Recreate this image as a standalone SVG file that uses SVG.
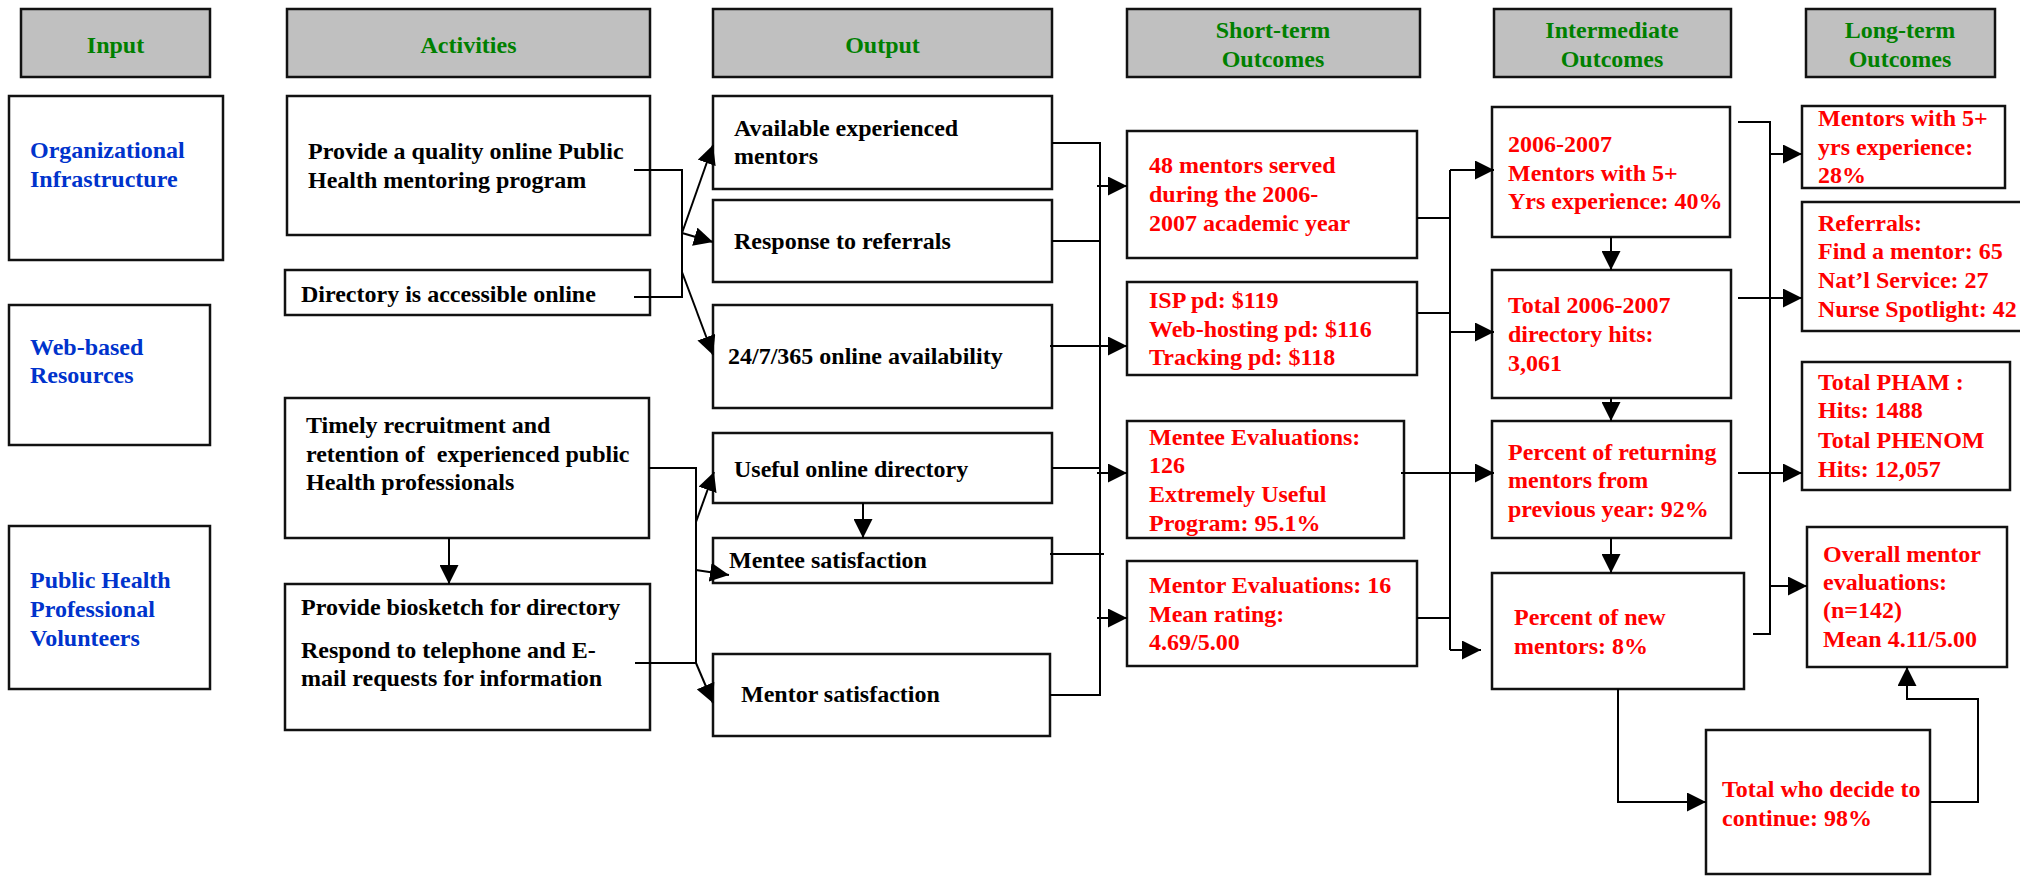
<svg xmlns="http://www.w3.org/2000/svg" width="2020" height="876" viewBox="0 0 2020 876" font-family="'Liberation Serif', 'DejaVu Serif', serif" font-weight="bold" font-size="24">
<style>
.hdr{fill:#c0c0c0;stroke:#111;stroke-width:2.5}
.box{fill:#fff;stroke:#111;stroke-width:2.5}
.h{fill:#008000;text-anchor:middle}
.in{fill:#0033cc}
.bk{fill:#000}
.rd{fill:#ff0000}
.c{fill:none;stroke:#000;stroke-width:2}
</style>
<defs>
<marker id="ah" markerUnits="userSpaceOnUse" markerWidth="19" markerHeight="19" refX="19" refY="9.5" orient="auto" viewBox="0 0 19 19">
<path d="M0,0 L19,9.5 L0,19 z" fill="#000"/>
</marker>
</defs>
<rect width="2020" height="876" fill="#fff"/>

<g id="hdr-input"><rect class="hdr" x="21" y="9" width="189" height="68"/><text class="h" x="115.5" y="53">Input</text></g>
<g id="hdr-activities"><rect class="hdr" x="287" y="9" width="363" height="68"/><text class="h" x="468.5" y="53">Activities</text></g>
<g id="hdr-output"><rect class="hdr" x="713" y="9" width="339" height="68"/><text class="h" x="882.5" y="53">Output</text></g>
<g id="hdr-short"><rect class="hdr" x="1127" y="9" width="293" height="68"/><text class="h" x="1273" y="38">Short-term</text><text class="h" x="1273" y="67">Outcomes</text></g>
<g id="hdr-inter"><rect class="hdr" x="1494" y="9" width="237" height="68"/><text class="h" x="1612" y="38">Intermediate</text><text class="h" x="1612" y="67">Outcomes</text></g>
<g id="hdr-long"><rect class="hdr" x="1806" y="9" width="189" height="68"/><text class="h" x="1900" y="38">Long-term</text><text class="h" x="1900" y="67">Outcomes</text></g>

<g id="in-org"><rect class="box" x="9" y="96" width="214" height="164"/><text class="in" x="30" y="158">Organizational</text><text class="in" x="30" y="187">Infrastructure</text></g>
<g id="in-web"><rect class="box" x="9" y="305" width="201" height="140"/><text class="in" x="30" y="355">Web-based</text><text class="in" x="30" y="383">Resources</text></g>
<g id="in-phpv"><rect class="box" x="9" y="526" width="201" height="163"/><text class="in" x="30" y="588">Public Health</text><text class="in" x="30" y="617">Professional</text><text class="in" x="30" y="646">Volunteers</text></g>

<g id="act-quality"><rect class="box" x="287" y="96" width="363" height="139"/><text class="bk" x="308" y="159">Provide a quality online Public</text><text class="bk" x="308" y="188">Health mentoring program</text></g>
<g id="act-directory"><rect class="box" x="285" y="270" width="365" height="45"/><text class="bk" x="301" y="302">Directory is accessible online</text></g>
<g id="act-timely"><rect class="box" x="285" y="398" width="364" height="140"/><text class="bk" x="306" y="433">Timely recruitment and</text><text class="bk" x="306" y="462">retention of&#160; experienced public</text><text class="bk" x="306" y="490">Health professionals</text></g>
<g id="act-biosketch"><rect class="box" x="285" y="584" width="365" height="146"/><text class="bk" x="301" y="615">Provide biosketch for directory</text><text class="bk" x="301" y="658">Respond to telephone and E-</text><text class="bk" x="301" y="686">mail requests for information</text></g>

<g id="out-mentors"><rect class="box" x="713" y="96" width="339" height="93"/><text class="bk" x="734" y="136">Available experienced</text><text class="bk" x="734" y="164">mentors</text></g>
<g id="out-referrals"><rect class="box" x="713" y="200" width="339" height="82"/><text class="bk" x="734" y="249">Response to referrals</text></g>
<g id="out-247"><rect class="box" x="713" y="305" width="339" height="103"/><text class="bk" x="728" y="364">24/7/365 online availability</text></g>
<g id="out-directory"><rect class="box" x="713" y="433" width="339" height="70"/><text class="bk" x="734" y="477">Useful online directory</text></g>
<g id="out-mentee"><rect class="box" x="713" y="538" width="339" height="45"/><text class="bk" x="729" y="568">Mentee satisfaction</text></g>
<g id="out-mentor"><rect class="box" x="713" y="654" width="337" height="82"/><text class="bk" x="741" y="702">Mentor satisfaction</text></g>

<g id="st-served"><rect class="box" x="1127" y="131" width="290" height="127"/><text class="rd" x="1149" y="173">48 mentors served</text><text class="rd" x="1149" y="202">during the 2006-</text><text class="rd" x="1149" y="231">2007 academic year</text></g>
<g id="st-isp"><rect class="box" x="1127" y="282" width="290" height="93"/><text class="rd" x="1149" y="308">ISP pd: $119</text><text class="rd" x="1149" y="337">Web-hosting pd: $116</text><text class="rd" x="1149" y="365">Tracking pd: $118</text></g>
<g id="st-mentee"><rect class="box" x="1127" y="421" width="277" height="117"/><text class="rd" x="1149" y="445">Mentee Evaluations:</text><text class="rd" x="1149" y="473">126</text><text class="rd" x="1149" y="502">Extremely Useful</text><text class="rd" x="1149" y="531">Program: 95.1%</text></g>
<g id="st-mentor"><rect class="box" x="1127" y="561" width="290" height="105"/><text class="rd" x="1149" y="593">Mentor Evaluations: 16</text><text class="rd" x="1149" y="622">Mean rating:</text><text class="rd" x="1149" y="650">4.69/5.00</text></g>

<g id="im-5yrs"><rect class="box" x="1492" y="107" width="238" height="130"/><text class="rd" x="1508" y="152">2006-2007</text><text class="rd" x="1508" y="181">Mentors with 5+</text><text class="rd" x="1508" y="209">Yrs experience: 40%</text></g>
<g id="im-hits"><rect class="box" x="1492" y="270" width="239" height="128"/><text class="rd" x="1508" y="313">Total 2006-2007</text><text class="rd" x="1508" y="342">directory hits:</text><text class="rd" x="1508" y="371">3,061</text></g>
<g id="im-returning"><rect class="box" x="1492" y="421" width="239" height="117"/><text class="rd" x="1508" y="460">Percent of returning</text><text class="rd" x="1508" y="488">mentors from</text><text class="rd" x="1508" y="517">previous year: 92%</text></g>
<g id="im-new"><rect class="box" x="1492" y="573" width="252" height="116"/><text class="rd" x="1514" y="625">Percent of new</text><text class="rd" x="1514" y="654">mentors: 8%</text></g>
<g id="im-continue"><rect class="box" x="1706" y="730" width="224" height="144"/><text class="rd" x="1722" y="797">Total who decide to</text><text class="rd" x="1722" y="826">continue: 98%</text></g>

<g id="lt-5yrs"><rect class="box" x="1802" y="106" width="203" height="82"/><text class="rd" x="1818" y="126">Mentors with 5+</text><text class="rd" x="1818" y="155">yrs experience:</text><text class="rd" x="1818" y="183">28%</text></g>
<g id="lt-referrals"><rect class="box" x="1802" y="202" width="222" height="129"/><text class="rd" x="1818" y="231">Referrals:</text><text class="rd" x="1818" y="259">Find a mentor: 65</text><text class="rd" x="1818" y="288">Nat’l Service: 27</text><text class="rd" x="1818" y="317">Nurse Spotlight: 42</text></g>
<g id="lt-pham"><rect class="box" x="1802" y="362" width="208" height="128"/><text class="rd" x="1818" y="390">Total PHAM :</text><text class="rd" x="1818" y="418">Hits: 1488</text><text class="rd" x="1818" y="448">Total PHENOM</text><text class="rd" x="1818" y="477">Hits: 12,057</text></g>
<g id="lt-overall"><rect class="box" x="1807" y="527" width="200" height="140"/><text class="rd" x="1823" y="562">Overall mentor</text><text class="rd" x="1823" y="590">evaluations:</text><text class="rd" x="1823" y="618">(n=142)</text><text class="rd" x="1823" y="647">Mean 4.11/5.00</text></g>

<g id="connectors">
<polyline class="c" points="634,170 682,170 682,297 634,297"/>
<line class="c" x1="682" y1="233" x2="713" y2="145" marker-end="url(#ah)"/>
<line class="c" x1="682" y1="233" x2="713" y2="242" marker-end="url(#ah)"/>
<line class="c" x1="682" y1="272" x2="713" y2="355" marker-end="url(#ah)"/>
<polyline class="c" points="649,468 696,468 696,663 635,663"/>
<line class="c" x1="449" y1="538" x2="449" y2="584" marker-end="url(#ah)"/>
<line class="c" x1="696" y1="522" x2="714" y2="472" marker-end="url(#ah)"/>
<line class="c" x1="696" y1="570" x2="729" y2="575" marker-end="url(#ah)"/>
<line class="c" x1="696" y1="663" x2="713" y2="703" marker-end="url(#ah)"/>
<line class="c" x1="863" y1="503" x2="863" y2="538" marker-end="url(#ah)"/>
<polyline class="c" points="1052,143 1100,143 1100,695 1050,695"/>
<line class="c" x1="1052" y1="241" x2="1100" y2="241"/>
<line class="c" x1="1052" y1="468" x2="1100" y2="468"/>
<line class="c" x1="1050" y1="554" x2="1104" y2="554"/>
<line class="c" x1="1097" y1="186" x2="1127" y2="186" marker-end="url(#ah)"/>
<line class="c" x1="1050" y1="346" x2="1127" y2="346" marker-end="url(#ah)"/>
<line class="c" x1="1097" y1="473" x2="1127" y2="473" marker-end="url(#ah)"/>
<line class="c" x1="1097" y1="618" x2="1127" y2="618" marker-end="url(#ah)"/>
<line class="c" x1="1450" y1="170" x2="1450" y2="650"/>
<line class="c" x1="1417" y1="218" x2="1450" y2="218"/>
<line class="c" x1="1417" y1="313" x2="1450" y2="313"/>
<line class="c" x1="1417" y1="618" x2="1450" y2="618"/>
<line class="c" x1="1450" y1="170" x2="1494" y2="170" marker-end="url(#ah)"/>
<line class="c" x1="1450" y1="332" x2="1494" y2="332" marker-end="url(#ah)"/>
<line class="c" x1="1401" y1="473" x2="1494" y2="473" marker-end="url(#ah)"/>
<line class="c" x1="1450" y1="650" x2="1481" y2="650" marker-end="url(#ah)"/>
<line class="c" x1="1611" y1="237" x2="1611" y2="270" marker-end="url(#ah)"/>
<line class="c" x1="1611" y1="398" x2="1611" y2="421" marker-end="url(#ah)"/>
<line class="c" x1="1611" y1="538" x2="1611" y2="573" marker-end="url(#ah)"/>
<polyline class="c" points="1738,122 1770,122 1770,634 1753,634"/>
<line class="c" x1="1770" y1="154" x2="1802" y2="154" marker-end="url(#ah)"/>
<line class="c" x1="1738" y1="298" x2="1802" y2="298" marker-end="url(#ah)"/>
<line class="c" x1="1738" y1="473" x2="1802" y2="473" marker-end="url(#ah)"/>
<line class="c" x1="1770" y1="586" x2="1807" y2="586" marker-end="url(#ah)"/>
<polyline class="c" points="1618,689 1618,802 1706,802" marker-end="url(#ah)"/>
<polyline class="c" points="1930,802 1978,802 1978,699 1907,699 1907,667" marker-end="url(#ah)"/>
</g>
</svg>
